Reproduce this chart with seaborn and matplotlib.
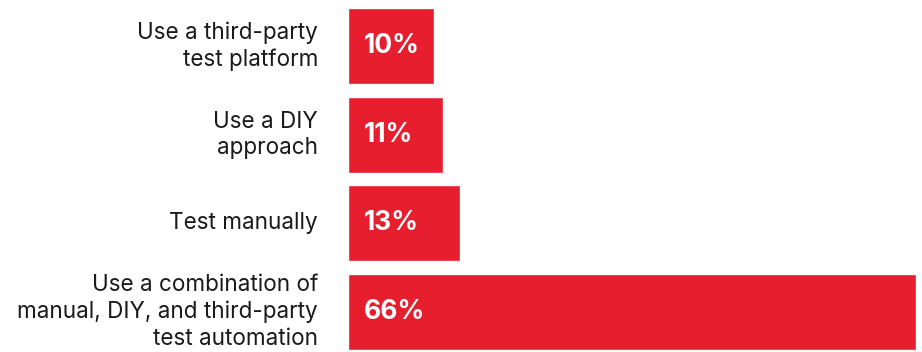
import matplotlib
matplotlib.use("Agg")
import matplotlib.pyplot as plt
import seaborn as sns
import pandas as pd

categories = [
    "Use a third-party\ntest platform",
    "Use a DIY\napproach",
    "Test manually",
    "Use a combination of\nmanual, DIY, and third-party\ntest automation",
]
values = [10, 11, 13, 66]
value_labels = ["10%", "11%", "13%", "66%"]

df = pd.DataFrame({"category": categories, "value": values})

sns.set_theme(style="white")
plt.rcParams["font.family"] = ["Inter", "DejaVu Sans"]

W, H = 922, 352
fig = plt.figure(figsize=(W / 100, H / 100), dpi=100)
ax = fig.add_axes([348 / W, 1 - 350 / H, (916 - 348) / W, (350 - 8) / H])

bw = 0.857
sns.barplot(data=df, x="value", y="category", orient="h", color="#E61E2D",
            saturation=1, width=bw, ax=ax)

ax.set_xlim(0, 66)
ax.set_ylim(3 + bw / 2, -bw / 2)
ax.set_xlabel("")
ax.set_ylabel("")
ax.set_xticks([])
ax.set_yticks([])
for s in ax.spines.values():
    s.set_visible(False)

for i, cat in enumerate(categories):
    ax.annotate(cat, xy=(0, i), xytext=(-30, 0), textcoords="offset pixels",
                ha="right", va="center", color="#1a1a1a", fontsize=16.2,
                linespacing=1.25, annotation_clip=False)

for i, lab in enumerate(value_labels):
    ax.annotate(lab, xy=(0, i), xytext=(16, 0), textcoords="offset pixels",
                ha="left", va="center", color="white", fontsize=19,
                fontweight="bold")

fig.savefig("out.png", dpi=100)
